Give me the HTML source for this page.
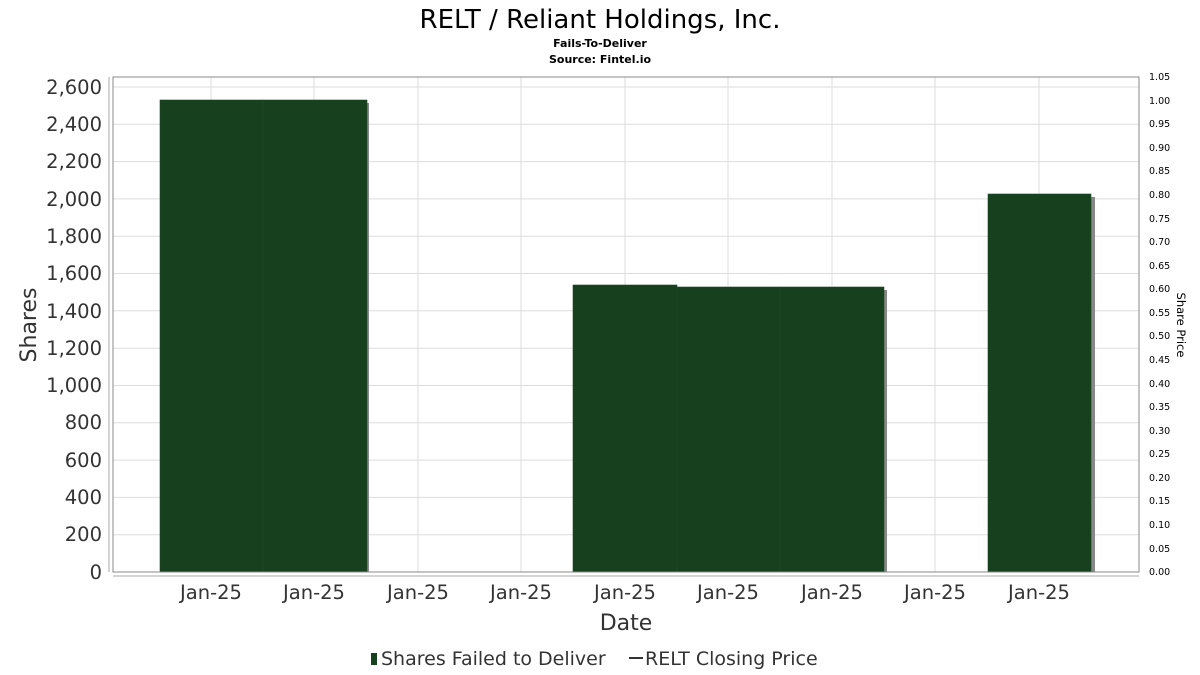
<!DOCTYPE html><html><head><style>body{margin:0;background:#fff}svg{display:block}</style></head><body>
<svg width="1200" height="675" xmlns="http://www.w3.org/2000/svg" font-family="DejaVu Sans, Liberation Sans, sans-serif">
<rect width="1200" height="675" fill="#fff"/>
<text x="600" y="28" text-anchor="middle" font-size="26" fill="#000">RELT / Reliant Holdings, Inc.</text>
<text x="600" y="47" text-anchor="middle" font-size="11" font-weight="bold">Fails-To-Deliver</text>
<text x="600" y="63" text-anchor="middle" font-size="11" font-weight="bold">Source: Fintel.io</text>
<g stroke="#ddd" stroke-width="1">
<line x1="113" x2="1139" y1="87" y2="87"/><line x1="113" x2="1139" y1="124.3" y2="124.3"/><line x1="113" x2="1139" y1="161.6" y2="161.6"/><line x1="113" x2="1139" y1="198.9" y2="198.9"/><line x1="113" x2="1139" y1="236.2" y2="236.2"/><line x1="113" x2="1139" y1="273.5" y2="273.5"/><line x1="113" x2="1139" y1="310.8" y2="310.8"/><line x1="113" x2="1139" y1="348.2" y2="348.2"/><line x1="113" x2="1139" y1="385.5" y2="385.5"/><line x1="113" x2="1139" y1="422.8" y2="422.8"/><line x1="113" x2="1139" y1="460.1" y2="460.1"/><line x1="113" x2="1139" y1="497.4" y2="497.4"/><line x1="113" x2="1139" y1="534.7" y2="534.7"/>
<line y1="77" y2="572" x1="211" x2="211"/><line y1="77" y2="572" x1="314" x2="314"/><line y1="77" y2="572" x1="418" x2="418"/><line y1="77" y2="572" x1="521" x2="521"/><line y1="77" y2="572" x1="625" x2="625"/><line y1="77" y2="572" x1="728" x2="728"/><line y1="77" y2="572" x1="832" x2="832"/><line y1="77" y2="572" x1="935" x2="935"/><line y1="77" y2="572" x1="1039" x2="1039"/>
</g>
<g fill="#888">
<rect x="163" y="103" width="206" height="469"/><rect x="576" y="288" width="104" height="284"/><rect x="680" y="290" width="207" height="282"/><rect x="991" y="197" width="104" height="375"/>
</g>
<g fill="#17401f" stroke="#1e4a28" stroke-width="0.6">
<rect x="160" y="100" width="103" height="472"/><rect x="263" y="100" width="104" height="472"/><rect x="573" y="285" width="104" height="287"/><rect x="677" y="287" width="103" height="285"/><rect x="780" y="287" width="104" height="285"/><rect x="988" y="194" width="103" height="378"/>
</g>
<rect x="113" y="77" width="1026" height="495" fill="none" stroke="#888"/>
<line x1="109" x2="109" y1="77" y2="572" stroke="#aaa"/>
<line x1="113" x2="1139" y1="576" y2="576" stroke="#aaa"/>
<g font-size="19.5" fill="#333" text-anchor="end">
<text x="102" y="94">2,600</text><text x="102" y="131">2,400</text><text x="102" y="168">2,200</text><text x="102" y="206">2,000</text><text x="102" y="243">1,800</text><text x="102" y="280">1,600</text><text x="102" y="318">1,400</text><text x="102" y="355">1,200</text><text x="102" y="392">1,000</text><text x="102" y="429">800</text><text x="102" y="467">600</text><text x="102" y="504">400</text><text x="102" y="541">200</text><text x="102" y="579">0</text>
</g>
<g font-size="19.5" fill="#333" text-anchor="middle">
<text x="211" y="599">Jan-25</text><text x="314" y="599">Jan-25</text><text x="418" y="599">Jan-25</text><text x="521" y="599">Jan-25</text><text x="625" y="599">Jan-25</text><text x="728" y="599">Jan-25</text><text x="832" y="599">Jan-25</text><text x="935" y="599">Jan-25</text><text x="1039" y="599">Jan-25</text>
</g>
<text x="626" y="630" text-anchor="middle" font-size="22" fill="#333">Date</text>
<text transform="translate(36,325) rotate(-90)" text-anchor="middle" font-size="22" fill="#333">Shares</text>
<g font-size="9.5" fill="#000">
<text x="1149" y="80">1.05</text><text x="1149" y="104">1.00</text><text x="1149" y="127">0.95</text><text x="1149" y="151">0.90</text><text x="1149" y="174">0.85</text><text x="1149" y="198">0.80</text><text x="1149" y="222">0.75</text><text x="1149" y="245">0.70</text><text x="1149" y="269">0.65</text><text x="1149" y="292">0.60</text><text x="1149" y="316">0.55</text><text x="1149" y="339">0.50</text><text x="1149" y="363">0.45</text><text x="1149" y="387">0.40</text><text x="1149" y="410">0.35</text><text x="1149" y="434">0.30</text><text x="1149" y="457">0.25</text><text x="1149" y="481">0.20</text><text x="1149" y="504">0.15</text><text x="1149" y="528">0.10</text><text x="1149" y="552">0.05</text><text x="1149" y="575">0.00</text>
</g>
<text transform="translate(1177,325) rotate(90)" text-anchor="middle" font-size="11.5" fill="#000">Share Price</text>
<rect x="371" y="653" width="6" height="12" fill="#17401f"/>
<text x="381" y="665" font-size="19" fill="#333">Shares Failed to Deliver</text>
<line x1="629" x2="643" y1="658" y2="658" stroke="#333" stroke-width="2"/>
<text x="645" y="665" font-size="19" fill="#333">RELT Closing Price</text>
</svg></body></html>
